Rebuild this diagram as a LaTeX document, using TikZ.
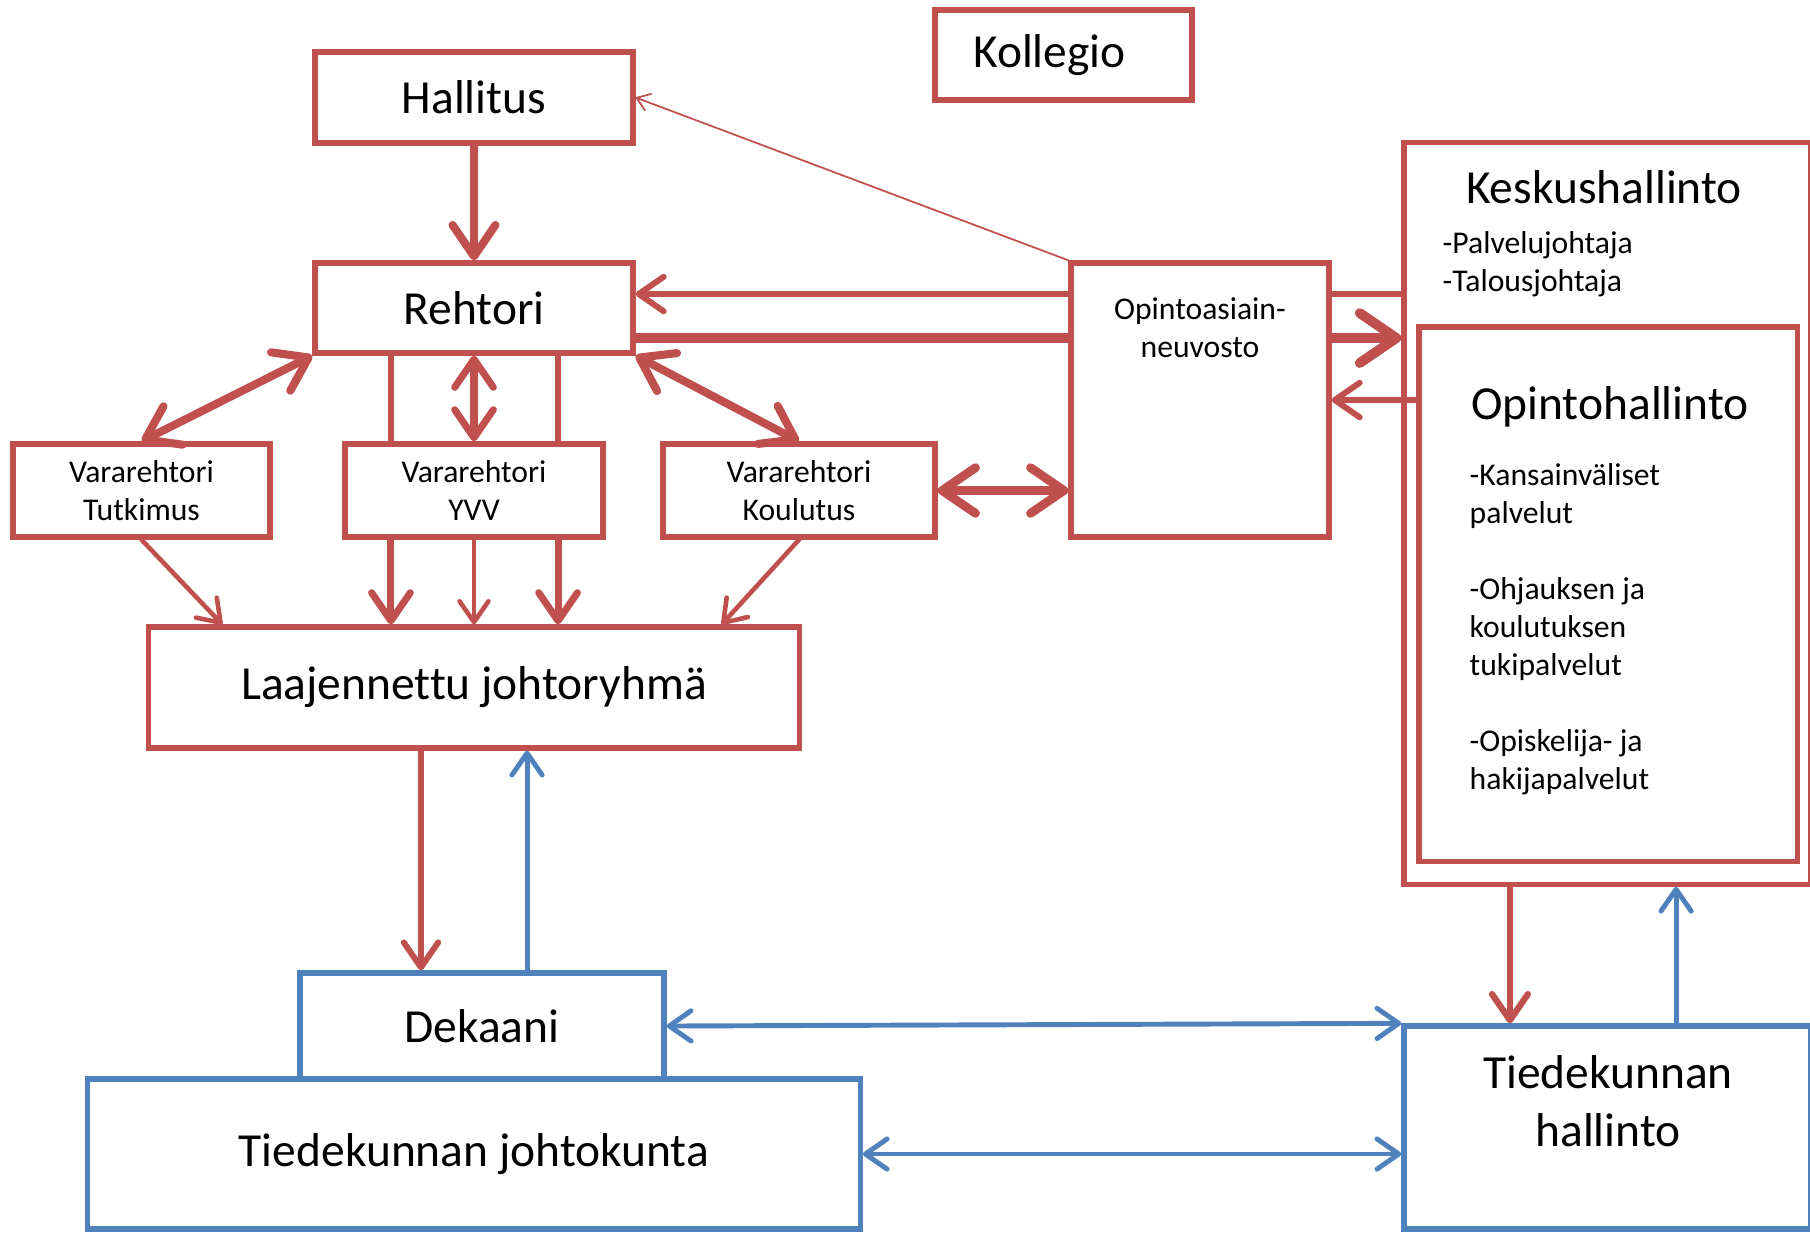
\documentclass[tikz,border=0pt]{standalone}
\usepackage{fontspec}
\setmainfont[Ligatures=NoCommon]{Carlito}
\usepackage{tikz}
\usetikzlibrary{arrows.meta}
\definecolor{punainen}{RGB}{192,80,77}
\definecolor{sininen}{RGB}{79,129,189}

\begin{document}
\begin{tikzpicture}[x=0.01cm, y=-0.01cm,
	laatikko/.style={draw=punainen, line width=1.5pt, fill=white, rectangle, inner sep=0pt, align=center},
	sinilaatikko/.style={laatikko, draw=sininen},
	iso/.style={font=\fontsize{13.5}{16.5}\selectfont, align=center},
	pieni/.style={font=\fontsize{9}{10.8}\selectfont, align=center},
	lista/.style={pieni, anchor=west, align=left, inner sep=0pt},
	>={Straight Barb[length=2pt 3, width=3pt 4, line cap=round, line join=round]},
	nuoli/.style={draw=punainen, line width=#1, line cap=round},
	sininuoli/.style={draw=sininen, line width=1.4pt, line cap=round}]
	\useasboundingbox (0,0) rectangle (1810,1232);
	
	% ylin taso
	\node[laatikko, iso, minimum width=3.18cm, minimum height=0.91cm] (hallitus) at (474,97.5) {Hallitus};
	\node[laatikko, iso, minimum width=2.57cm, minimum height=0.9cm] (kollegio) at (1063.5,55) {Kollegio\hspace{0.28cm}};
	\node[laatikko, iso, minimum width=3.18cm, minimum height=0.9cm] (rehtori) at (474,308) {Rehtori};
	
	% vararehtorit
	\foreach \nimi/\ala/\xx/\lev in {tutkimus/Tutkimus/141.5/2.57, yvv/YVV/474/2.58, koulutus/Koulutus/799/2.72} {
		\node[laatikko, pieni, minimum width=\lev cm, minimum height=0.93cm] (\nimi) at (\xx,490.5) {Vararehtori\\\ala};
	}
	\node[laatikko, iso, minimum width=6.5cm, minimum height=1.21cm] (laaj) at (474,687.5) {Laajennettu johtoryhmä};
	
	% neuvosto ja keskushallinto
	\node[laatikko, minimum width=2.58cm, minimum height=2.74cm] (opinto) at (1200,400) {};
	\node[pieni] (opintoteksti) at (1200,328) {Opintoasiain-\\neuvosto};
	\node[laatikko, minimum width=4.06cm, minimum height=7.41cm] (keskus) at (1607,513.5) {};
	\node[iso] (keskusteksti) at (1604,187) {Keskushallinto};
	\node[lista] (keskuslista) at (1442,264) {-Palvelujohtaja\\-Talousjohtaja};
	\node[laatikko, minimum width=3.78cm, minimum height=5.34cm] (opintoh) at (1608,594) {};
	\node[iso] (opintohteksti) at (1610,407) {Opintohallinto};
	\node[lista] (opintohlista) at (1469,629.5) {-Kansainväliset\\palvelut\\[10.8pt]-Ohjauksen ja\\koulutuksen\\tukipalvelut\\[10.8pt]-Opiskelija- ja\\hakijapalvelut};
	
	% tiedekunta
	\node[sinilaatikko, iso, minimum width=3.64cm, minimum height=1.06cm] (dekaani) at (482,1026) {Dekaani};
	\node[sinilaatikko, iso, minimum width=7.72cm, minimum height=1.5cm] (johtokunta) at (474,1154) {Tiedekunnan johtokunta};
	\node[sinilaatikko, minimum width=4.06cm, minimum height=2.03cm] (hallinto) at (1607,1127.5) {};
	\node[iso] (hallintoteksti) at (1608,1101) {Tiedekunnan\\hallinto};
	
	% yhteydet ylhaalla
	\draw[nuoli=2.3pt, ->] (hallitus) -- (rehtori);
	\draw[nuoli=0.5pt, ->] (opinto.north west) -- (hallitus.east);
	\coordinate (rylin) at ([yshift=0.14cm]rehtori.east);
	\coordinate (ralin) at ([yshift=-0.30cm]rehtori.east);
	\draw[nuoli=1.7pt, <-] (rylin) -- (rylin -| opinto.west);
	\draw[nuoli=1.7pt] (rylin -| opinto.east) -- (rylin -| keskus.west);
	\draw[nuoli=2.8pt] (ralin) -- (ralin -| opinto.west);
	\draw[nuoli=2.8pt, ->] (ralin -| opinto.east) -- (ralin -| keskus.west);
	\draw[nuoli=1.7pt, ->] (opintoh.west |- opinto.east) -- (opinto.east);
	
	% rehtori ja vararehtorit
	\draw[nuoli=2.3pt, <->] (rehtori.south west) -- (tutkimus.north);
	\draw[nuoli=2pt, <->] (rehtori.south) -- (yvv.north);
	\draw[nuoli=2.3pt, <->] (rehtori.south east) -- (koulutus.north);
	\draw[nuoli=2.5pt, <->] (koulutus.east) -- (koulutus.east -| opinto.west);
	\foreach \siirto in {-0.83, 0.84} {
		\draw[nuoli=1.7pt] ([xshift=\siirto cm]rehtori.south) -- ([xshift=\siirto cm]yvv.north);
		\draw[nuoli=2pt, ->] ([xshift=\siirto cm]yvv.south) -- ([xshift=\siirto cm]laaj.north);
	}
	\draw[nuoli=1.3pt, ->] (yvv.south) -- (laaj.north);
	\draw[nuoli=1.3pt, ->] (tutkimus.south) -- ([xshift=0.76cm]laaj.north west);
	\draw[nuoli=1.3pt, ->] (koulutus.south) -- ([xshift=-0.8cm]laaj.north east);
	
	% yhteydet tiedekuntaan
	\coordinate (lpun) at ([xshift=-0.53cm]laaj.south);
	\coordinate (lsin) at ([xshift=0.53cm]laaj.south);
	\draw[nuoli=1.7pt, ->] (lpun) -- (lpun |- dekaani.north);
	\draw[sininuoli, ->] (lsin |- dekaani.north) -- (lsin);
	\coordinate (kpun) at ([xshift=-0.97cm]keskus.south);
	\coordinate (ksin) at ([xshift=0.69cm]keskus.south);
	\draw[nuoli=1.8pt, ->] (kpun) -- (kpun |- hallinto.north);
	\draw[sininuoli, ->] (ksin |- hallinto.north) -- (ksin);
	\draw[sininuoli, <->] (dekaani.east) -- (hallinto.north west);
	\draw[sininuoli, <->] (johtokunta.east) -- (johtokunta.east -| hallinto.west);
\end{tikzpicture}
\end{document}
